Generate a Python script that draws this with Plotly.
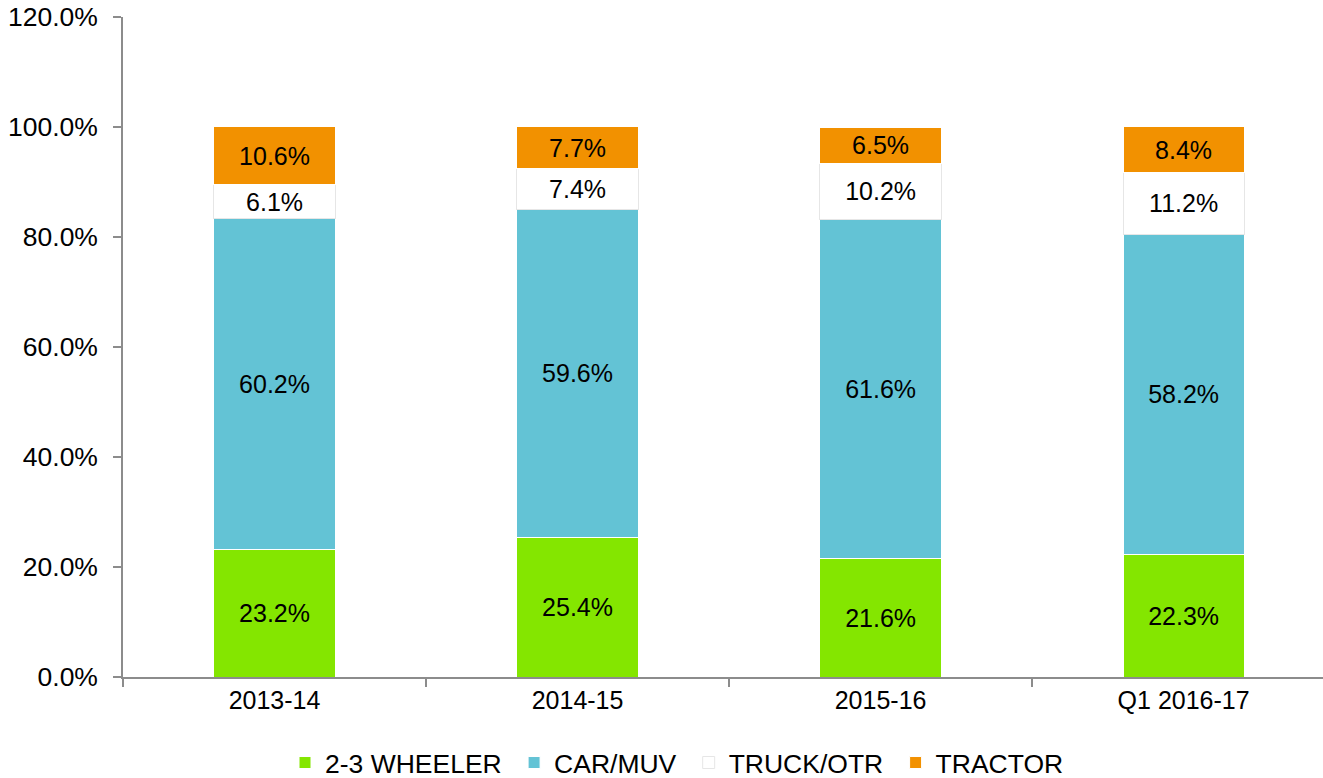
import plotly.graph_objects as go

categories = ["2013-14", "2014-15", "2015-16", "Q1 2016-17"]
wheeler = [23.2, 25.4, 21.6, 22.3]
car_muv = [60.2, 59.6, 61.6, 58.2]
truck_otr = [6.1, 7.4, 10.2, 11.2]
tractor = [10.6, 7.7, 6.5, 8.4]

series = [
    ("2-3 WHEELER", wheeler, "#84E600", "#FFFFFF"),
    ("CAR/MUV", car_muv, "#63C3D5", "#FFFFFF"),
    ("TRUCK/OTR", truck_otr, "#FFFFFF", "#E6E6E6"),
    ("TRACTOR", tractor, "#F29100", "#FFFFFF"),
]

FONT = "Liberation Sans, Arial, sans-serif"
FS = 25
FS_Y = 26.5
FS_LEG = 26.5

fig = go.Figure()
for name, vals, color, line in series:
    fig.add_trace(go.Bar(
        x=categories, y=vals, name=name + "\u00a0",
        marker=dict(color=color, line=dict(color=line, width=1)),
        width=0.4,
        text=vals, texttemplate="%{y:.1f}%",
        textposition="inside", insidetextanchor="middle",
        textfont=dict(color="black", size=FS, family=FONT),
        constraintext="none",
        hoverinfo="skip",
    ))

fig.update_layout(
    barmode="stack",
    width=1323, height=778,
    margin=dict(l=123, r=0, t=17, b=101, autoexpand=False),
    paper_bgcolor="white", plot_bgcolor="white",
    font=dict(family=FONT, size=FS, color="black"),
    showlegend=True,
    legend=dict(orientation="h", x=0.135, xanchor="left", y=-0.13, yanchor="middle",
                font=dict(size=FS_LEG, family=FONT), traceorder="normal",
                itemclick=False),
)
fig.update_xaxes(
    type="category", range=[-0.5, 3.46],
    showline=True, linecolor="#8C8C8C", linewidth=1.5,
    ticks="outside", tickson="boundaries", ticklen=8, tickcolor="#8C8C8C", tickwidth=1.5,
    showgrid=False, tickfont=dict(size=FS, family=FONT),
)
fig.update_yaxes(
    range=[0, 120], tickvals=[0, 20, 40, 60, 80, 100, 120],
    ticktext=["0.0%", "20.0%", "40.0%", "60.0%", "80.0%", "100.0%", "120.0%"],
    showline=True, linecolor="#8C8C8C", linewidth=1.5,
    ticks="outside", ticklen=8, tickcolor="#8C8C8C", tickwidth=1.5,
    ticklabelstandoff=10, ticklabeloverflow="allow",
    showgrid=False, zeroline=False, tickfont=dict(size=FS_Y, family=FONT),
)

fig.write_html("out.html", config={"displayModeBar": False},
               post_script="document.body.style.margin='0';")
